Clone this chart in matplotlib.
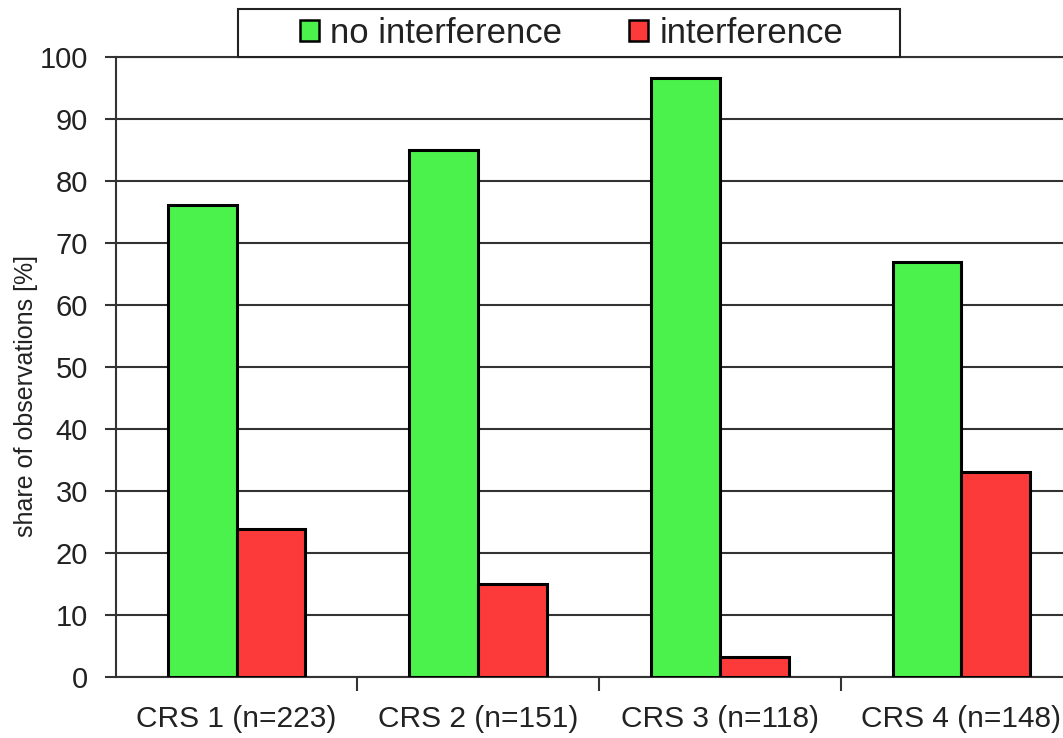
import matplotlib.pyplot as plt
from matplotlib.patches import Rectangle
import numpy as np

plt.rcParams['font.family'] = ['Liberation Sans', 'DejaVu Sans']

# shares per station, in percent
stations = ["CRS 1 (n=223)", "CRS 2 (n=151)", "CRS 3 (n=118)", "CRS 4 (n=148)"]
no_interf = [76.2, 85.0, 96.7, 66.9]
interf = [23.8, 15.0, 3.3, 33.1]

fig = plt.figure(figsize=(10.63, 7.38), dpi=100)
ax = fig.add_axes([0.109, 0.0827, 0.909, 0.840])

x = np.arange(len(stations)) + 0.5
w = 0.285
ax.bar(x - w / 2, no_interf, w, color='#4cf24c', edgecolor='black', linewidth=2.2,
       label='no interference', zorder=3)
ax.bar(x + w / 2, interf, w, color='#fc3a3a', edgecolor='black', linewidth=2.2,
       label='interference', zorder=3)

ax.set_xlim(0, 4)
ax.set_ylim(0, 100)
ax.set_yticks(np.arange(0, 101, 10))
ax.set_xticks([1, 2, 3])
ax.set_xticklabels([])
ax.set_xticks(x, minor=True)
ax.set_xticklabels(stations, minor=True, fontsize=21.5, color='#222222')
ax.tick_params(axis='x', which='major', direction='out', length=10, width=1.5, color='#333333')
ax.tick_params(axis='x', which='minor', length=0, pad=20)
ax.tick_params(axis='y', direction='out', length=8, width=1.5, color='#333333',
               labelsize=21, labelcolor='#222222', pad=12)

ax.yaxis.grid(True, color='#333333', linewidth=1.5, zorder=0)
ax.set_axisbelow(True)
ax.spines['right'].set_visible(False)
for side in ['left', 'bottom', 'top']:
    ax.spines[side].set_color('#333333')
    ax.spines[side].set_linewidth(1.5)

ax.set_ylabel("share of observations [%]", fontsize=18, color='#222222')
ax.yaxis.set_label_coords(-0.081, 0.453)

# legend box sitting on the top edge of the plot
ax.add_patch(Rectangle((0.1263, 1.0), 0.6853, 0.0774, transform=ax.transAxes,
                       facecolor='white', edgecolor='#222222', linewidth=1.5,
                       clip_on=False, zorder=4))
leg = ax.legend(loc='center', bbox_to_anchor=(0.4715, 1.0387), ncol=2, fontsize=25,
                frameon=False, handlelength=0.55, handleheight=0.55, handletextpad=0.32,
                columnspacing=1.93, borderpad=0, borderaxespad=0, labelcolor='#222222')
leg.set_zorder(5)
for h in leg.legend_handles:
    h.set_linewidth(1.8)

fig.savefig("out.png", dpi=100)
